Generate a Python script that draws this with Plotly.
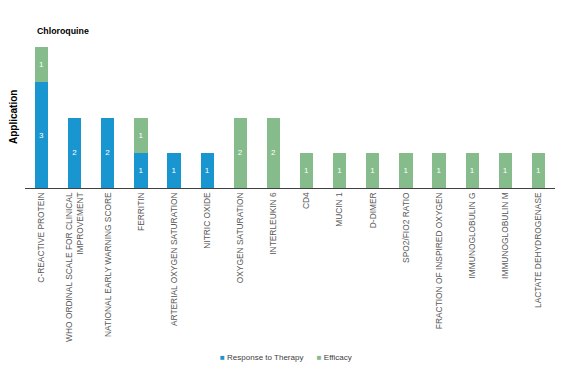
import plotly.graph_objects as go

categories = [
    "C-REACTIVE PROTEIN",
    "WHO ORDINAL SCALE FOR CLINICAL<br>IMPROVEMENT",
    "NATIONAL EARLY WARNING SCORE",
    "FERRITIN",
    "ARTERIAL OXYGEN SATURATION",
    "NITRIC OXIDE",
    "OXYGEN SATURATION",
    "INTERLEUKIN 6",
    "CD4",
    "MUCIN 1",
    "D-DIMER",
    "SPO2/FIO2 RATIO",
    "FRACTION OF INSPIRED OXYGEN",
    "IMMUNOGLOBULIN G",
    "IMMUNOGLOBULIN M",
    "LACTATE DEHYDROGENASE",
]
response = [3, 2, 2, 1, 1, 1, 0, 0, 0, 0, 0, 0, 0, 0, 0, 0]
efficacy = [1, 0, 0, 1, 0, 0, 2, 2, 1, 1, 1, 1, 1, 1, 1, 1]
series_names = ["Response to Therapy", "Efficacy"]

FONT = "Liberation Sans, Arial, sans-serif"
BLUE = "#1996d0"
GREEN = "#86bb8c"

def labels(vals):
    return [str(v) if v else "" for v in vals]

fig = go.Figure()
for vals, name, color in [(response, series_names[0], BLUE), (efficacy, series_names[1], GREEN)]:
    fig.add_trace(go.Bar(
        x=categories, y=[v if v else None for v in vals], name=name,
        marker_color=color, marker_line_width=0, text=labels(vals),
        textposition="inside", insidetextanchor="middle",
        textfont=dict(color="white", size=8, family=FONT),
        hoverinfo="skip", showlegend=False,
    ))

fig.update_layout(
    barmode="stack",
    bargap=0.6,
    width=565, height=390,
    margin=dict(l=16.5, r=18, t=39, b=210, autoexpand=False),
    paper_bgcolor="white", plot_bgcolor="white",
    font=dict(family=FONT, size=8, color="#595959"),
    showlegend=False,
    uniformtext=dict(minsize=8, mode="show"),
)
fig.update_xaxes(
    type="category", tickangle=-90, showline=True, linecolor="#404040",
    linewidth=1, ticks="", showgrid=False, automargin=False,
    tickfont=dict(size=8.4, color="#595959", family=FONT),
)
fig.update_yaxes(
    range=[0, 4], showticklabels=False, showgrid=False, zeroline=False,
    showline=False, ticks="", automargin=False,
)
fig.add_annotation(
    text="<b>Chloroquine</b>", xref="paper", yref="paper", x=0.018, y=1,
    xanchor="left", yanchor="middle", yshift=16, showarrow=False,
    font=dict(size=8.8, color="#000000", family=FONT),
)
fig.add_annotation(
    text="<b>Application</b>", xref="paper", yref="paper", x=0, y=0.5,
    xanchor="center", yanchor="middle", xshift=-11.5, textangle=-90,
    showarrow=False, font=dict(size=10, color="#000000", family=FONT),
)
legend_text = (
    f'<span style="color:{BLUE}">■</span> {series_names[0]}'
    f'&nbsp;&nbsp;&nbsp;&nbsp;&nbsp;&nbsp;'
    f'<span style="color:{GREEN}">■</span> {series_names[1]}'
)
fig.add_annotation(
    text=legend_text, xref="paper", yref="paper", x=0.4925, y=0,
    xanchor="center", yanchor="middle", yshift=-169, showarrow=False,
    font=dict(size=8, color="#404040", family=FONT),
)

fig.write_html("out.html")
